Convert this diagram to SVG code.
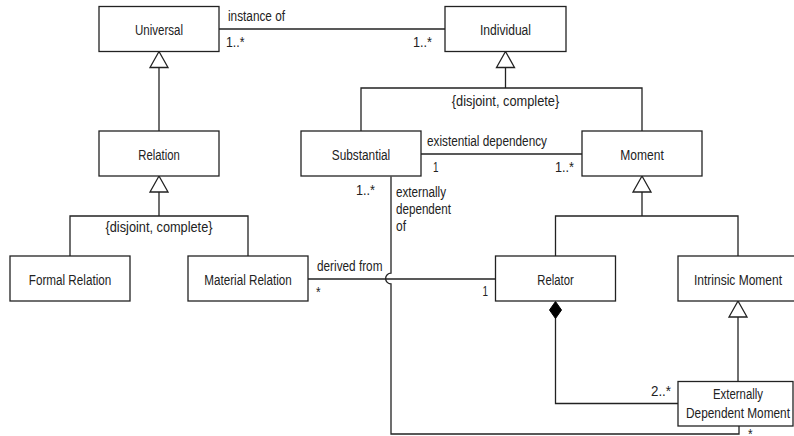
<svg xmlns="http://www.w3.org/2000/svg" width="794" height="436" viewBox="0 0 794 436">
  <style>
    .box { fill: #ffffff; stroke: #222222; stroke-width: 1.3; }
    .line { fill: none; stroke: #222222; stroke-width: 1.3; }
    .gen { fill: #ffffff; stroke: #222222; stroke-width: 1.3; stroke-linejoin: miter; }
    .comp { fill: #000000; stroke: #000000; stroke-width: 1; }
    text { font-family: "Liberation Sans", Arial, sans-serif; font-size: 15.5px; fill: #222222; }
    .name { text-anchor: middle; }
    .end { text-anchor: end; }
  </style>

  <!-- connectors; labels are condensed with textLength -->
  <g id="connectors">
    <!-- Universal - Individual association -->
    <path class="line" d="M219,29 H445"/>
    <text x="228" y="21" textLength="57" lengthAdjust="spacingAndGlyphs">instance of</text>
    <text x="226" y="47" textLength="18.5" lengthAdjust="spacingAndGlyphs">1..*</text>
    <text x="432" y="47" class="end" textLength="19" lengthAdjust="spacingAndGlyphs">1..*</text>

    <!-- Relation specializes Universal -->
    <path class="line" d="M159,67.5 V131"/>
    <path class="gen" d="M159,51.5 L150,67.5 L168,67.5 Z"/>

    <!-- Formal / Material Relation specialize Relation -->
    <path class="line" d="M159,192 V216 M70,256 V216 H248 V256"/>
    <path class="gen" d="M159,176 L150,192 L168,192 Z"/>
    <text x="159" y="232" class="name" textLength="107" lengthAdjust="spacingAndGlyphs">{disjoint, complete}</text>

    <!-- Substantial / Moment specialize Individual -->
    <path class="line" d="M505.5,67.5 V88 M361,131 V88 H642 V131"/>
    <path class="gen" d="M505.5,51.5 L496.5,67.5 L514.5,67.5 Z"/>
    <text x="505.5" y="106" class="name" textLength="107.5" lengthAdjust="spacingAndGlyphs">{disjoint, complete}</text>

    <!-- existential dependency -->
    <path class="line" d="M421,154 H582"/>
    <text x="427" y="146" textLength="120" lengthAdjust="spacingAndGlyphs">existential dependency</text>
    <text x="433" y="172" textLength="5.5" lengthAdjust="spacingAndGlyphs">1</text>
    <text x="574" y="172" class="end" textLength="19" lengthAdjust="spacingAndGlyphs">1..*</text>

    <!-- Relator / Intrinsic Moment specialize Moment -->
    <path class="line" d="M642,192 V216 M555.5,256 V216 H738 V256"/>
    <path class="gen" d="M642,176 L633,192 L651,192 Z"/>

    <!-- Externally Dependent Moment specializes Intrinsic Moment -->
    <path class="line" d="M738,317 V381.5"/>
    <path class="gen" d="M738,301 L729,317 L747,317 Z"/>

    <!-- derived from -->
    <path class="line" d="M308,279 H495.5"/>
    <text x="317" y="271" textLength="65.5" lengthAdjust="spacingAndGlyphs">derived from</text>
    <text x="316" y="297" textLength="4.6" lengthAdjust="spacingAndGlyphs">*</text>
    <text x="488" y="296" class="end" textLength="5.5" lengthAdjust="spacingAndGlyphs">1</text>

    <!-- Relator composed of Externally Dependent Moments -->
    <path class="line" d="M555.5,318 V403.5 H678"/>
    <path class="comp" d="M555.5,301.5 L561.5,310 L555.5,318.5 L549.5,310 Z"/>
    <text x="671" y="396" class="end" textLength="20" lengthAdjust="spacingAndGlyphs">2..*</text>

    <!-- externally dependent of (hops over derived from) -->
    <path class="line" d="M391,176.5 V273.2 A5.4,5.4 0 0 0 391,284 V434 H739 V426"/>
    <text x="375" y="195" class="end" textLength="19" lengthAdjust="spacingAndGlyphs">1..*</text>
    <text x="396" y="197" textLength="50" lengthAdjust="spacingAndGlyphs">externally</text>
    <text x="396" y="214" textLength="55" lengthAdjust="spacingAndGlyphs">dependent</text>
    <text x="396" y="231" textLength="10" lengthAdjust="spacingAndGlyphs">of</text>
    <text x="748" y="439" textLength="4.6" lengthAdjust="spacingAndGlyphs">*</text>
  </g>

  <!-- classes -->
  <g id="universal">
    <rect class="box" x="99" y="6.5" width="120" height="45"/>
    <text x="159" y="35" class="name" textLength="48" lengthAdjust="spacingAndGlyphs">Universal</text>
  </g>
  <g id="individual">
    <rect class="box" x="445" y="6.5" width="121" height="45"/>
    <text x="505.5" y="35" class="name" textLength="51" lengthAdjust="spacingAndGlyphs">Individual</text>
  </g>
  <g id="relation">
    <rect class="box" x="99" y="131" width="120" height="45"/>
    <text x="159" y="160" class="name" textLength="41.5" lengthAdjust="spacingAndGlyphs">Relation</text>
  </g>
  <g id="substantial">
    <rect class="box" x="301" y="131" width="120" height="45"/>
    <text x="361" y="160" class="name" textLength="58.5" lengthAdjust="spacingAndGlyphs">Substantial</text>
  </g>
  <g id="moment">
    <rect class="box" x="582" y="131" width="120" height="45"/>
    <text x="642" y="160" class="name" textLength="43.5" lengthAdjust="spacingAndGlyphs">Moment</text>
  </g>
  <g id="formal-relation">
    <rect class="box" x="10" y="256" width="120" height="45"/>
    <text x="70" y="285" class="name" textLength="82.5" lengthAdjust="spacingAndGlyphs">Formal Relation</text>
  </g>
  <g id="material-relation">
    <rect class="box" x="188" y="256" width="120" height="45"/>
    <text x="248" y="285" class="name" textLength="87.5" lengthAdjust="spacingAndGlyphs">Material Relation</text>
  </g>
  <g id="relator">
    <rect class="box" x="495.5" y="256" width="120" height="45"/>
    <text x="555.5" y="285" class="name" textLength="36.5" lengthAdjust="spacingAndGlyphs">Relator</text>
  </g>
  <g id="intrinsic-moment">
    <rect class="box" x="678" y="256" width="120" height="45"/>
    <text x="738" y="285" class="name" textLength="88" lengthAdjust="spacingAndGlyphs">Intrinsic Moment</text>
  </g>
  <g id="externally-dependent-moment">
    <rect class="box" x="678" y="381.5" width="115" height="44.5"/>
    <text x="738" y="399" class="name" textLength="50" lengthAdjust="spacingAndGlyphs">Externally</text>
    <text x="738" y="418" class="name" textLength="104" lengthAdjust="spacingAndGlyphs">Dependent Moment</text>
  </g>
</svg>
